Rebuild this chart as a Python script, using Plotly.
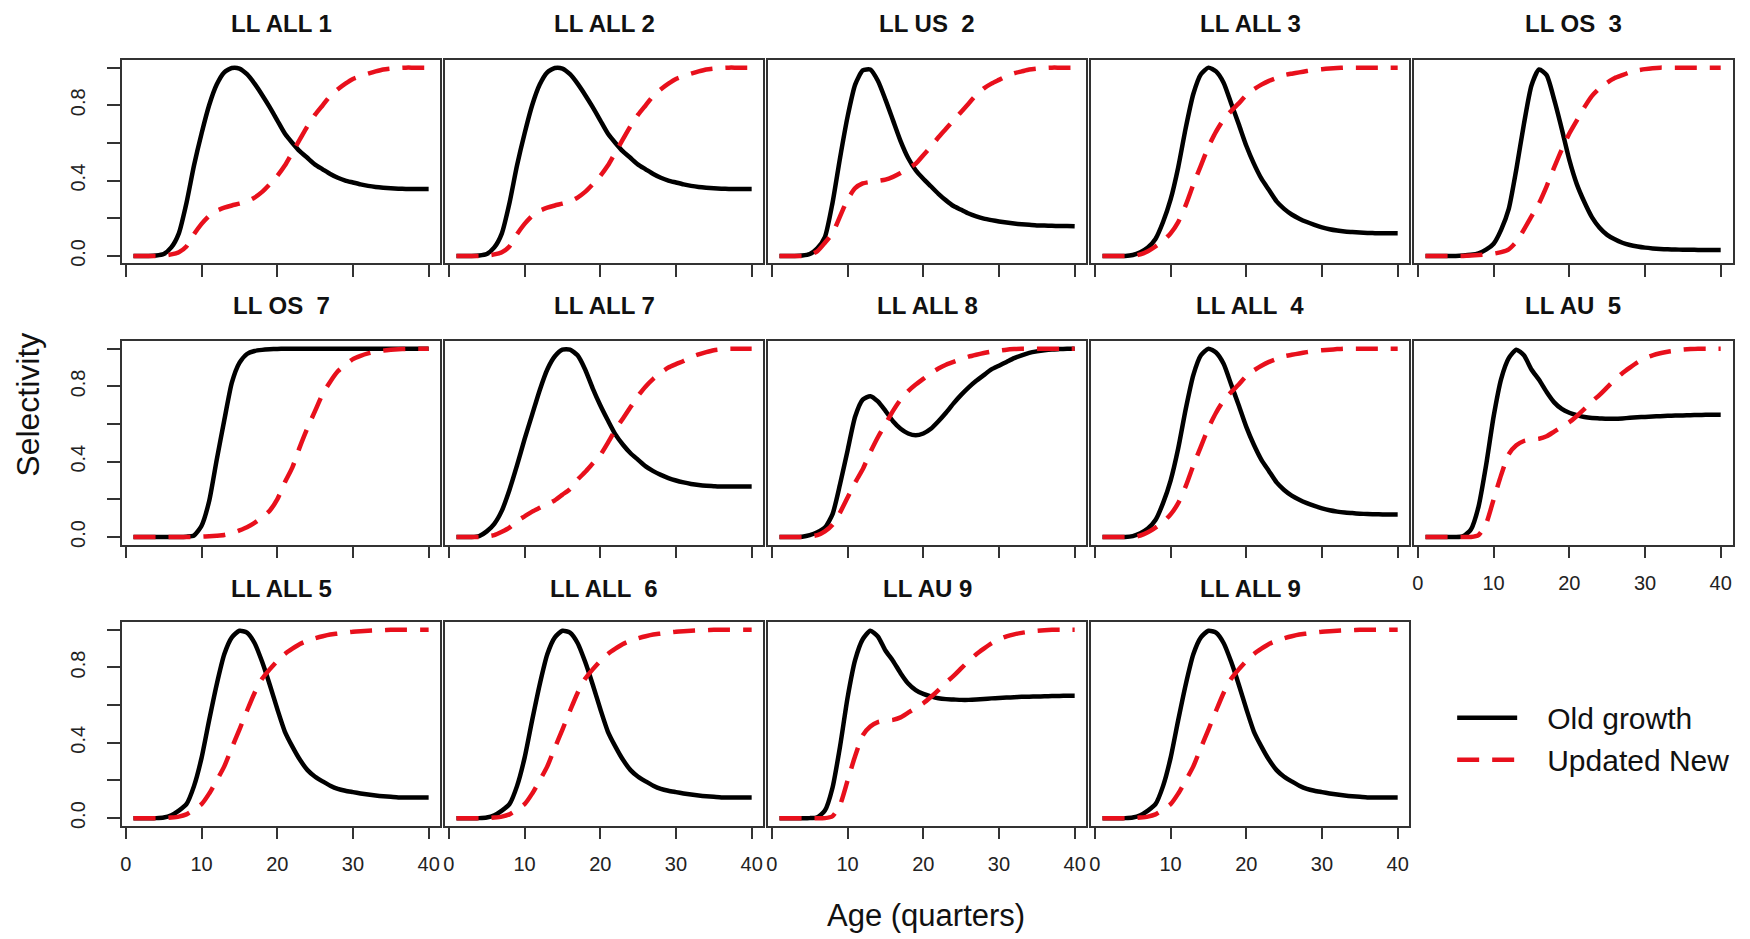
import plotly.graph_objects as go

# ---------------- data ----------------
AGE = [1, 2, 3, 4, 5, 6, 7, 8, 9, 10, 11, 12, 13, 14, 15, 16, 17, 18, 19, 20,
       21, 22, 23, 24, 25, 26, 27, 28, 29, 30, 31, 32, 33, 34, 35, 36, 37, 38, 39, 40]

ALL1_OLD = [0, 0, 0, 0.002, 0.01, 0.045, 0.12, 0.28, 0.48, 0.65, 0.80, 0.91, 0.975, 0.998, 0.995,
            0.965, 0.915, 0.855, 0.79, 0.72, 0.65, 0.60, 0.555, 0.52, 0.485, 0.46, 0.435, 0.415,
            0.40, 0.39, 0.38, 0.372, 0.366, 0.362, 0.359, 0.357, 0.356, 0.355, 0.355, 0.355]
ALL1_NEW = [0, 0, 0, 0, 0.002, 0.008, 0.02, 0.05, 0.115, 0.17, 0.213, 0.24, 0.256, 0.268, 0.278,
            0.29, 0.31, 0.34, 0.38, 0.425, 0.48, 0.55, 0.62, 0.69, 0.75, 0.80, 0.85, 0.885, 0.915,
            0.94, 0.955, 0.968, 0.98, 0.99, 0.995, 0.998, 1, 1, 1, 1]

US2_OLD = [0, 0, 0, 0.002, 0.01, 0.04, 0.10, 0.28, 0.52, 0.74, 0.91, 0.985, 0.99, 0.93, 0.83,
           0.72, 0.61, 0.52, 0.455, 0.41, 0.37, 0.33, 0.295, 0.265, 0.245, 0.225, 0.21, 0.198,
           0.19, 0.183, 0.177, 0.172, 0.168, 0.165, 0.162, 0.161, 0.16, 0.159, 0.159, 0.158]
US2_NEW = [0, 0, 0, 0, 0.005, 0.025, 0.07, 0.12, 0.21, 0.30, 0.36, 0.385, 0.393, 0.398, 0.405,
           0.42, 0.44, 0.465, 0.49, 0.535, 0.58, 0.63, 0.675, 0.72, 0.765, 0.81, 0.855, 0.89,
           0.915, 0.935, 0.955, 0.97, 0.98, 0.99, 0.995, 0.998, 1, 1, 1, 1]

ALL3_OLD = [0, 0, 0, 0, 0.005, 0.02, 0.045, 0.09, 0.18, 0.30, 0.47, 0.68, 0.86, 0.965, 1.0,
            0.98, 0.92, 0.81, 0.70, 0.585, 0.49, 0.41, 0.35, 0.29, 0.25, 0.22, 0.198, 0.18,
            0.165, 0.152, 0.142, 0.135, 0.13, 0.127, 0.124, 0.122, 0.121, 0.12, 0.12, 0.12]
ALL3_NEW = [0, 0, 0, 0, 0, 0.008, 0.025, 0.05, 0.08, 0.12, 0.18, 0.27, 0.38, 0.48, 0.58,
            0.66, 0.725, 0.77, 0.81, 0.855, 0.885, 0.91, 0.93, 0.945, 0.96, 0.968, 0.975, 0.982,
            0.988, 0.992, 0.995, 0.998, 1, 1, 1, 1, 1, 1, 1, 1]

OS3_OLD = [0, 0, 0, 0, 0, 0.002, 0.006, 0.014, 0.033, 0.065, 0.14, 0.25, 0.46, 0.70, 0.905,
           0.99, 0.96, 0.83, 0.675, 0.51, 0.38, 0.285, 0.205, 0.15, 0.112, 0.088, 0.07, 0.058,
           0.05, 0.044, 0.04, 0.037, 0.035, 0.034, 0.033, 0.033, 0.032, 0.032, 0.032, 0.032]
OS3_NEW = [0, 0, 0, 0, 0, 0, 0.002, 0.005, 0.008, 0.012, 0.02, 0.035, 0.075, 0.14, 0.21,
           0.28, 0.37, 0.47, 0.565, 0.65, 0.72, 0.79, 0.85, 0.89, 0.92, 0.945, 0.96, 0.975,
           0.985, 0.992, 0.997, 1, 1, 1, 1, 1, 1, 1, 1, 1]

OS7_OLD = [0, 0, 0, 0, 0, 0, 0, 0.002, 0.008, 0.06, 0.19, 0.41, 0.62, 0.82, 0.925,
           0.972, 0.988, 0.994, 0.997, 0.999, 1, 1, 1, 1, 1, 1, 1, 1, 1, 1,
           1, 1, 1, 1, 1, 1, 1, 1, 1, 1]
OS7_NEW = [0, 0, 0, 0, 0, 0, 0, 0, 0.001, 0.002, 0.004, 0.007, 0.011, 0.02, 0.035,
           0.052, 0.075, 0.105, 0.14, 0.2, 0.29, 0.37, 0.48, 0.58, 0.67, 0.76, 0.825, 0.88,
           0.915, 0.945, 0.962, 0.975, 0.984, 0.99, 0.994, 0.997, 0.999, 1, 1, 1]

ALL7_OLD = [0, 0, 0, 0.005, 0.03, 0.07, 0.14, 0.25, 0.38, 0.52, 0.65, 0.78, 0.89, 0.96, 0.995,
            0.995, 0.965, 0.89, 0.79, 0.70, 0.62, 0.545, 0.49, 0.445, 0.41, 0.375, 0.35, 0.33,
            0.313, 0.30, 0.29, 0.282, 0.276, 0.272, 0.27, 0.268, 0.268, 0.268, 0.268, 0.268]
ALL7_NEW = [0, 0, 0, 0, 0.003, 0.01, 0.028, 0.05, 0.085, 0.11, 0.135, 0.155, 0.175, 0.195, 0.225,
            0.255, 0.305, 0.345, 0.39, 0.435, 0.5, 0.57, 0.63, 0.69, 0.75, 0.80, 0.84, 0.873,
            0.9, 0.918, 0.935, 0.955, 0.97, 0.982, 0.992, 0.997, 1, 1, 1, 1]

ALL8_OLD = [0, 0, 0, 0.002, 0.01, 0.025, 0.05, 0.12, 0.28, 0.46, 0.64, 0.73, 0.748, 0.72, 0.67,
            0.615, 0.575, 0.55, 0.54, 0.55, 0.575, 0.615, 0.66, 0.71, 0.755, 0.795, 0.83, 0.86,
            0.89, 0.91, 0.93, 0.95, 0.965, 0.978, 0.986, 0.992, 0.996, 0.998, 1, 1]
ALL8_NEW = [0, 0, 0, 0, 0.003, 0.01, 0.03, 0.065, 0.13, 0.21, 0.29, 0.36, 0.45, 0.53, 0.6,
            0.67, 0.73, 0.775, 0.81, 0.84, 0.87, 0.895, 0.915, 0.93, 0.945, 0.958, 0.968, 0.977,
            0.985, 0.99, 0.995, 0.998, 1, 1, 1, 1, 1, 1, 1, 1]

AU5_OLD = [0, 0, 0, 0, 0, 0.005, 0.04, 0.16, 0.38, 0.64, 0.84, 0.95, 0.995, 0.965, 0.89,
           0.835, 0.77, 0.715, 0.68, 0.66, 0.647, 0.637, 0.632, 0.63, 0.628, 0.628, 0.63, 0.633,
           0.636, 0.638, 0.64, 0.642, 0.644, 0.645, 0.646, 0.647, 0.648, 0.649, 0.65, 0.65]
AU5_NEW = [0, 0, 0, 0, 0, 0, 0, 0.01, 0.07, 0.2, 0.33, 0.44, 0.487, 0.51, 0.518,
           0.522, 0.535, 0.56, 0.585, 0.61, 0.643, 0.68, 0.72, 0.755, 0.795, 0.835, 0.87, 0.9,
           0.928, 0.95, 0.965, 0.976, 0.984, 0.99, 0.995, 0.998, 1, 1, 1, 1]

ALL5_OLD = [0, 0, 0, 0, 0.003, 0.015, 0.04, 0.074, 0.17, 0.32, 0.52, 0.71, 0.87, 0.96, 0.995,
            0.985, 0.93, 0.83, 0.71, 0.58, 0.46, 0.38, 0.31, 0.255, 0.22, 0.195, 0.172, 0.155,
            0.145, 0.138, 0.131, 0.125, 0.12, 0.116, 0.113, 0.11, 0.109, 0.109, 0.109, 0.109]
ALL5_NEW = [0, 0, 0, 0, 0, 0.003, 0.008, 0.02, 0.045, 0.074, 0.13, 0.2, 0.275, 0.374, 0.47,
            0.57, 0.665, 0.74, 0.79, 0.835, 0.872, 0.9, 0.925, 0.942, 0.955, 0.966, 0.975, 0.98,
            0.985, 0.99, 0.993, 0.995, 0.997, 0.998, 1, 1, 1, 1, 1, 1]

TITLES = ["LL ALL 1", "LL ALL 2", "LL US  2", "LL ALL 3", "LL OS  3",
          "LL OS  7", "LL ALL 7", "LL ALL 8", "LL ALL  4", "LL AU  5",
          "LL ALL 5", "LL ALL  6", "LL AU 9", "LL ALL 9"]
OLD_GROWTH = [ALL1_OLD, ALL1_OLD, US2_OLD, ALL3_OLD, OS3_OLD,
              OS7_OLD, ALL7_OLD, ALL8_OLD, ALL3_OLD, AU5_OLD,
              ALL5_OLD, ALL5_OLD, AU5_OLD, ALL5_OLD]
UPDATED_NEW = [ALL1_NEW, ALL1_NEW, US2_NEW, ALL3_NEW, OS3_NEW,
               OS7_NEW, ALL7_NEW, ALL8_NEW, ALL3_NEW, AU5_NEW,
               ALL5_NEW, ALL5_NEW, AU5_NEW, ALL5_NEW]
SERIES_NAMES = ["Old growth", "Updated New"]

X_TICKS = [0, 10, 20, 30, 40]
Y_TICKS = [0, 0.2, 0.4, 0.6, 0.8, 1.0]
Y_TICKTEXT = ["0.0", "", "0.4", "", "0.8", ""]

# ---------------- layout / style ----------------
W, H = 1750, 939
COL_LEFT = [120.7, 443.9, 767.1, 1090.3, 1413.5]
ROW_TOP = [60.3, 342.3, 624.3]
PW, PH = 319, 204
TITLE_Y = [24, 306, 590]
FONT = "Liberation Sans, Arial, Helvetica, sans-serif"
RED = "#e8101c"
BOX = "#333333"
PAD = "\u00a0\u00a0\u00a0"

fig = go.Figure()
layout = {}
annotations = []

for i, title in enumerate(TITLES):
    r, c = divmod(i, 5)
    n = i + 1
    xname = "x" if n == 1 else f"x{n}"
    yname = "y" if n == 1 else f"y{n}"
    fig.add_trace(go.Scatter(
        x=AGE, y=OLD_GROWTH[i], mode="lines", name=PAD + SERIES_NAMES[0],
        line=dict(color="black", width=4.5, shape="spline", smoothing=0.6),
        xaxis=xname, yaxis=yname,
        showlegend=(i == 0), legendgroup="old", hoverinfo="skip"))
    fig.add_trace(go.Scatter(
        x=AGE, y=UPDATED_NEW[i], mode="lines", name=PAD + SERIES_NAMES[1],
        line=dict(color=RED, width=4.5, dash="22px,13px", shape="spline", smoothing=0.6),
        xaxis=xname, yaxis=yname,
        showlegend=(i == 0), legendgroup="new", hoverinfo="skip"))

    x0 = COL_LEFT[c] / W
    x1 = (COL_LEFT[c] + PW) / W
    y1 = 1 - ROW_TOP[r] / H
    y0 = 1 - (ROW_TOP[r] + PH) / H

    show_xlab = (r == 2) or (r == 1 and c == 4)
    layout["xaxis" if n == 1 else f"xaxis{n}"] = dict(
        domain=[x0, x1], anchor=yname, range=[-0.56, 41.56],
        showline=True, mirror=True, linecolor=BOX, linewidth=1.6,
        ticks="outside", ticklen=12, tickwidth=1.6, tickcolor=BOX,
        tickvals=X_TICKS, showticklabels=show_xlab, ticklabelstandoff=8,
        tickfont=dict(family=FONT, size=20, color="#222"),
        showgrid=False, zeroline=False, fixedrange=True)
    layout["yaxis" if n == 1 else f"yaxis{n}"] = dict(
        domain=[y0, y1], anchor=xname, range=[-0.04, 1.04],
        showline=True, mirror=True, linecolor=BOX, linewidth=1.6,
        ticks="outside" if c == 0 else "", ticklen=13, tickwidth=1.6, tickcolor=BOX,
        tickvals=Y_TICKS, ticktext=Y_TICKTEXT, tickangle=-90,
        showticklabels=(c == 0), ticklabelstandoff=14,
        tickfont=dict(family=FONT, size=20, color="#222"),
        showgrid=False, zeroline=False, fixedrange=True)

    annotations.append(dict(
        text=title.replace("  ", " \u00a0"), x=(x0 + x1) / 2, y=1 - TITLE_Y[r] / H,
        xref="paper", yref="paper", xanchor="center", yanchor="middle",
        showarrow=False, font=dict(family=FONT, size=24, color="#111", weight="bold")))

annotations.append(dict(
    text="Selectivity", x=27 / W, y=1 - 406 / H, xref="paper", yref="paper",
    xanchor="center", yanchor="middle", textangle=-90, showarrow=False,
    font=dict(family=FONT, size=32, color="#111")))
annotations.append(dict(
    text="Age (quarters)", x=926 / W, y=1 - 918 / H, xref="paper", yref="paper",
    xanchor="center", yanchor="middle", showarrow=False,
    font=dict(family=FONT, size=31, color="#111")))

fig.update_layout(
    width=W, height=H, autosize=False,
    margin=dict(l=0, r=0, t=0, b=0, pad=0),
    paper_bgcolor="white", plot_bgcolor="white",
    annotations=annotations,
    showlegend=True,
    legend=dict(x=1452 / W, y=1 - 694 / H, xanchor="left", yanchor="top",
                bgcolor="rgba(0,0,0,0)", borderwidth=0,
                font=dict(family=FONT, size=30, color="#111"),
                itemwidth=60, tracegroupgap=0),
    **layout)

fig.write_html("out.html")
